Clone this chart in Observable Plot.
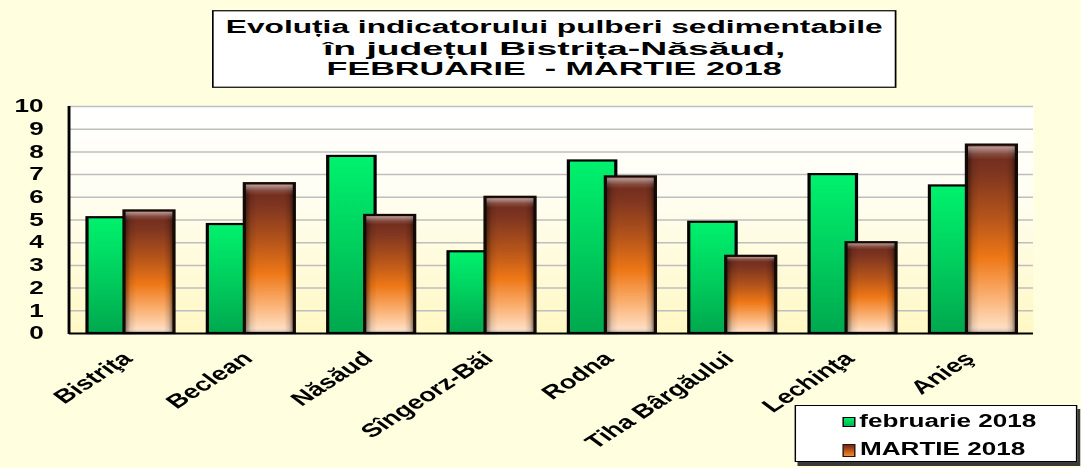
<!DOCTYPE html>
<html><head><meta charset="utf-8">
<script src="https://cdn.jsdelivr.net/npm/d3@7"></script>
<script src="https://cdn.jsdelivr.net/npm/@observablehq/plot@0.6"></script>
<style>
html,body{margin:0;padding:0;background:#FFFFE0;overflow:hidden;}
#wrap{position:relative;width:745.5px;height:468px;transform:scaleX(1.45);transform-origin:0 0;font-family:"Liberation Sans",Arial,sans-serif;}
#title{position:absolute;left:146.2px;top:10px;}
#legend{position:absolute;left:547.6px;top:405px;width:195px;height:57px;box-sizing:border-box;border:1.5px solid #000;background:#fff;box-shadow:2px 4px 0 #3a3a3a;font-weight:bold;font-size:18px;color:#000;}
.row{position:absolute;left:32px;height:20px;line-height:20px;white-space:nowrap;}
.sw{display:inline-block;vertical-align:middle;margin-right:3px;box-sizing:border-box;}
</style>
</head><body>
<div id="wrap"></div>
<script>
const categories = ["Bistriţa","Beclean","Năsăud","Sîngeorz-Băi","Rodna","Tiha Bârgăului","Lechinţa","Anieş"];
const febValues = [5.1, 4.8, 7.8, 3.6, 7.6, 4.9, 7.0, 6.5];
const marValues = [5.4, 6.6, 5.2, 6.0, 6.9, 3.4, 4.0, 8.3];
const seriesNames = ["februarie 2018", "MARTIE 2018"];
const yTicks = [0,1,2,3,4,5,6,7,8,9,10];
const titleLines = ["Evoluția indicatorului pulberi sedimentabile", "în județul Bistrița-Năsăud,", "FEBRUARIE  - MARTIE 2018"];

const S = 1.45, W = 1081 / S;
const feb = categories.map((c, i) => ({cat: c, value: febValues[i], series: seriesNames[0]}));
const mar = categories.map((c, i) => ({cat: c, value: marValues[i], series: seriesNames[1]}));
const font = '"Liberation Sans", Arial, sans-serif';

const chart = Plot.plot({
  width: W, height: 468,
  marginLeft: 47.6, marginRight: W - 712.4, marginTop: 106, marginBottom: 135,
  style: {background: "transparent", fontFamily: font, color: "#000", overflow: "visible"},
  x: {domain: categories, paddingInner: 0.28, paddingOuter: 0.14, axis: null, label: null},
  y: {domain: [0, 10], axis: null, label: null},
  marks: [
    Plot.frame({fill: "url(#plotBg)", stroke: "none"}),
    Plot.gridY(yTicks.slice(1), {stroke: "#BEBEBE", strokeOpacity: 1, strokeWidth: 1.5}),
    Plot.barY(feb, {x: "cat", y: "value", insetLeft: 0, insetRight: 27.3, fill: "url(#gGreen)", stroke: "#000", strokeWidth: 2.2}),
    Plot.barY(mar, {x: "cat", y: "value", insetLeft: 25.5, insetRight: 0, fill: "url(#gBrown)", stroke: "none"}),
    Plot.barY(mar, {x: "cat", y: "value", insetLeft: 25.5, insetRight: 0, fill: "url(#gBevelH)", stroke: "none"}),
    Plot.barY(mar, {x: "cat", y: "value", insetLeft: 25.5, insetRight: 0, fill: "url(#gBevelV)", stroke: "#140a05", strokeWidth: 2.2}),
    Plot.ruleY([0], {stroke: "#000", strokeWidth: 2}),
    Plot.axisY(yTicks, {tickSize: 0, tickPadding: 18, fontSize: 18, fontWeight: "bold", label: null}),
    Plot.axisX({tickSize: 0, tickPadding: 22, tickRotate: -43, fontSize: 19, fontWeight: "bold", dx: -2.5, label: null})
  ]
});

const svg = d3.select(chart);
const defs = svg.insert("defs", ":first-child");
function grad(id, stops, horiz) {
  const g = defs.append("linearGradient").attr("id", id)
    .attr("x1", 0).attr("y1", 0).attr("x2", horiz ? 1 : 0).attr("y2", horiz ? 0 : 1);
  stops.forEach(([o, c, a]) => g.append("stop").attr("offset", o).attr("stop-color", c).attr("stop-opacity", a == null ? 1 : a));
}
grad("plotBg", [[0, "#FFFFFF"], [0.35, "#FFFEF4"], [1, "#FFF8C4"]]);
grad("gGreen", [[0, "#00F26E"], [0.5, "#00CF5E"], [1, "#00A84E"]]);
grad("gBrown", [[0, "#6A281D"], [0.15, "#7E3520"], [0.4, "#B8561A"], [0.6, "#EE7716"], [0.8, "#FAAE6E"], [1, "#FFE6D0"]]);
grad("gBevelH", [[0, "#000", 0.55], [0.13, "#000", 0.1], [0.25, "#000", 0], [0.8, "#000", 0], [0.9, "#000", 0.15], [1, "#000", 0.6]], true);
grad("gBevelV", [[0, "#fff", 0], [0.015, "#fff", 0.5], [0.05, "#fff", 0.15], [0.08, "#fff", 0], [0.96, "#fff", 0], [1, "#000", 0.25]]);

const xr = chart.scale("x").range, yr = chart.scale("y").range;
svg.append("line").attr("x1", xr[0]).attr("x2", xr[0]).attr("y1", yr[0] + 1).attr("y2", yr[1])
  .attr("stroke", "#000").attr("stroke-width", 2);

const wrap = document.getElementById("wrap");
wrap.appendChild(chart);

// Title box
const tW = 472.4, tH = 78;
const tsvg = d3.create("svg").attr("id", "title").attr("width", tW).attr("height", tH);
tsvg.append("rect").attr("x", 0.75).attr("y", 0.75).attr("width", tW - 1.5).attr("height", tH - 1.5)
  .attr("fill", "#fff").attr("stroke", "#000").attr("stroke-width", 1.2);
const tBase = [23.5, 45, 65.5], tLen = [453, 319, 314];
titleLines.forEach((t, i) => {
  tsvg.append("text").attr("x", tW / 2).attr("y", tBase[i]).attr("text-anchor", "middle")
    .attr("font-family", font).attr("font-weight", "bold").attr("font-size", 19)
    .attr("textLength", tLen[i]).attr("lengthAdjust", "spacingAndGlyphs")
    .style("white-space", "pre").text(t);
});
wrap.appendChild(tsvg.node());

// Legend
const leg = document.createElement("div");
leg.id = "legend";
const swStyles = [
  "width:9px;height:10px;border:1.5px solid #000;background:linear-gradient(#00F26E,#00B050);",
  "width:9.5px;height:13px;border:1.5px solid #2a1208;background:linear-gradient(#6A281D,#C8601A 60%,#F08A30);"
];
const rowTops = [5, 33];
seriesNames.forEach((n, i) => {
  const r = document.createElement("div");
  r.className = "row";
  r.style.top = rowTops[i] + "px";
  r.innerHTML = `<span class="sw" style="${swStyles[i]}"></span>${n}`;
  leg.appendChild(r);
});
wrap.appendChild(leg);
</script>
</body></html>
